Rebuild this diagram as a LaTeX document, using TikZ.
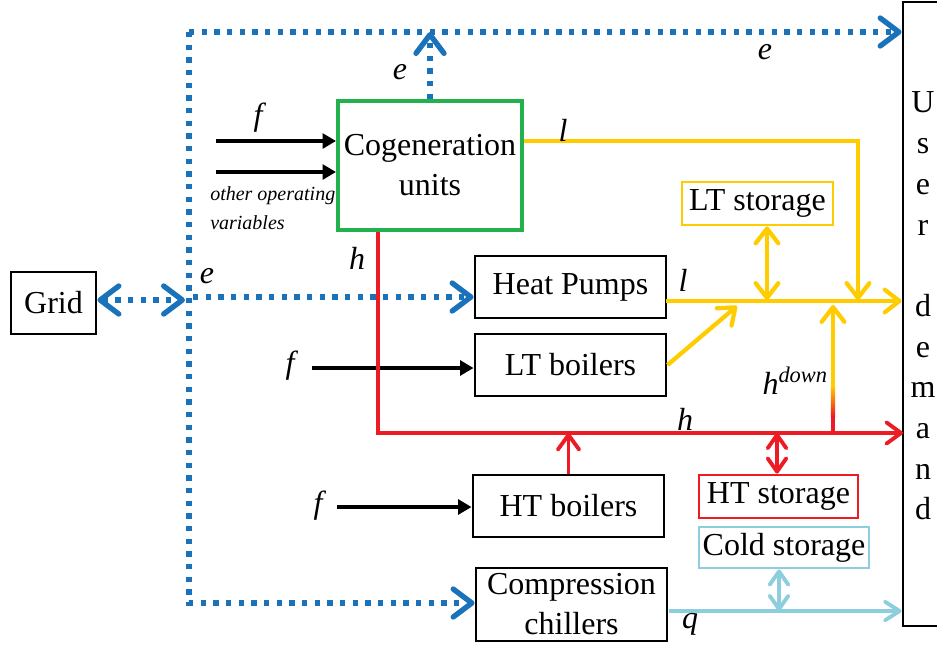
\documentclass[tikz,border=0pt]{standalone}
\usepackage{fontspec}
\setmainfont{Liberation Serif}
\usetikzlibrary{arrows.meta}
\definecolor{eblue}{RGB}{26,114,187}
\definecolor{lyellow}{RGB}{255,204,0}
\definecolor{hred}{RGB}{237,28,36}
\definecolor{cgreen}{RGB}{34,177,76}
\definecolor{cblue}{RGB}{140,206,222}
\tikzset{
  unitbox/.style={draw=black, line width=2.2pt, inner sep=0pt, align=center},
  elec/.style={draw=eblue, line width=4pt, dash pattern=on 4pt off 5.5pt},
  ebarb/.style={-{Straight Barb[length=14pt,width=21pt,round]}},
  ebarbs/.style={{Straight Barb[length=14pt,width=21pt,round]}-{Straight Barb[length=14pt,width=21pt,round]}},
  fuel/.style={draw=black, line width=3.2pt, -{Triangle[length=10pt,width=11pt]}},
  lheat/.style={draw=lyellow, line width=3.2pt, -{Straight Barb[length=11pt,width=17pt,round]}},
  lheats/.style={draw=lyellow, line width=3.2pt, {Straight Barb[length=11pt,width=17pt,round]}-{Straight Barb[length=11pt,width=17pt,round]}},
  hheat/.style={draw=hred, line width=2.9pt, -{Straight Barb[length=11pt,width=16pt,round]}},
  hheats/.style={draw=hred, line width=2.9pt, {Straight Barb[length=10pt,width=14pt,round]}-{Straight Barb[length=10pt,width=14pt,round]}},
  cold/.style={draw=cblue, line width=2.9pt, -{Straight Barb[length=11pt,width=14pt,round]}},
  colds/.style={draw=cblue, line width=2.9pt, {Straight Barb[length=10pt,width=14pt,round]}-{Straight Barb[length=10pt,width=14pt,round]}},
  var/.style={font=\fontsize{24}{30}\selectfont\itshape, inner sep=0pt},
}
\begin{document}
\begin{tikzpicture}[x=0.75pt, y=-0.75pt, font=\fontsize{24}{30}\selectfont]
\useasboundingbox (0,0) rectangle (937,644);

% units
\node[unitbox, minimum width=63.75pt, minimum height=46.5pt] (grid) at (53.5,303) {Grid};
\node[unitbox, draw=cgreen, line width=3pt, minimum width=138pt, minimum height=96.75pt] (cog) at (430,165.5) {Cogeneration\\units};
\node[unitbox, minimum width=143.25pt, minimum height=46.5pt] (hp) at (570.5,287) {Heat Pumps};
\node[unitbox, minimum width=143.25pt, minimum height=46.5pt] (ltb) at (570.5,365) {LT boilers};
\node[unitbox, minimum width=143.25pt, minimum height=46.5pt] (htb) at (568.5,506) {HT boilers};
\node[unitbox, minimum width=143.25pt, minimum height=54.75pt] (chil) at (571.5,604.5) {Compression\\chillers};
\node[unitbox, draw=lyellow, minimum width=113.25pt, minimum height=32.25pt] (lts) at (757.5,203.5) {LT storage};
\node[unitbox, draw=hred, minimum width=119.25pt, minimum height=32.25pt] (hts) at (778.5,496.5) {HT storage};
\node[unitbox, draw=cblue, minimum width=127.5pt, minimum height=30.75pt] (cst) at (784,547.5) {Cold storage};
\node[unitbox, minimum width=30pt, minimum height=468pt] (ud) at (923,314) {};
\node[align=center, inner sep=0pt, font=\fontsize{24}{30.5}\selectfont] (udtext) at (923,306)
  {U\\s\\e\\r\\\strut\\d\\e\\m\\a\\n\\d};

% reference coordinates
\coordinate (tl) at (189,32);
\coordinate (bl) at (189,603);
\coordinate (gj) at (185,300);
\coordinate (hpin) at (193,297);
\coordinate (f1) at (216,141);
\coordinate (f2) at (216,172);
\coordinate (f3) at (312,368);
\coordinate (f4) at (337,507);
\coordinate (lcorner) at (858,141);
\coordinate (lbus) at (858,300);
\coordinate (hpout) at (666,301);
\coordinate (ltsx) at (767,300);
\coordinate (diag) at (737,306);
\coordinate (hx) at (378,433);
\coordinate (hbus) at (903,433);
\coordinate (hd0) at (833,433);
\coordinate (hd1) at (833,416);
\coordinate (hd2) at (833,386);
\coordinate (hd3) at (833,305);
\coordinate (hsx) at (777,433);
\coordinate (qout) at (669,611);
\coordinate (csx) at (779,611);

% electricity
\draw[elec, ebarb] (tl) -- (ud.west |- tl);
\draw[elec, ebarb] (tl) -- (bl) -- (chil.west |- bl);
\draw[elec, ebarb] (cog.north) -- (cog.north |- tl);
\draw[elec, ebarbs] (grid.east |- gj) -- (gj);
\draw[elec, ebarb] (hpin) -- (hp.west |- hpin);

% fuel and other inputs
\draw[fuel] (f1) -- (cog.west |- f1);
\draw[fuel] (f2) -- (cog.west |- f2);
\draw[fuel] (f3) -- (ltb.west |- f3);
\draw[fuel] (f4) -- (htb.west |- f4);

% high temperature heat
\draw[hheat] (cog.south -| hx) -- (hx) -- (hbus);
\draw[hheat] (htb.north) -- (htb.north |- hx);
\draw[hheats] (hsx) -- (hts.north -| hsx);

% low temperature heat
\draw[lheat] (cog.east |- f1) -- (lcorner) -- (lbus);
\draw[lheat] (hpout) -- (ud.west |- hpout);
\draw[lheats] (lts.south -| ltsx) -- (ltsx);
\draw[lheat] (ltb.east) -- (diag);
\draw[hred, line width=3.2pt] (hd0) -- (hd1);
\shade[bottom color=hred, top color=lyellow] ([xshift=-1.6pt]hd1) rectangle ([xshift=1.6pt]hd2);
\draw[lheat] ([yshift=-1pt]hd2) -- (hd3);

% cooling
\draw[cold] (qout) -- (ud.west |- qout);
\draw[colds] (cst.south -| csx) -- (csx);

% flow labels
\node[var] (le1) at (400,72) {e};
\node[var] (le2) at (765,52) {e};
\node[var] (le3) at (207,276) {e};
\node[var] (lf1) at (258,118) {f};
\node[var] (lf2) at (290,366) {f};
\node[var] (lf3) at (318,506) {f};
\node[var] (lh1) at (357,258) {h};
\node[var] (lh2) at (685,419) {h};
\node[var] (ll1) at (563,130) {l};
\node[var] (ll2) at (683,280) {l};
\node[var] (lq) at (690,624) {q};
\node[var, anchor=east] (lhd) at (828,381) {h\textsuperscript{down}};
\node[var, font=\fontsize{15}{22}\selectfont\itshape, anchor=north west, align=left] (lov) at (210,186) {other operating\\variables};
\end{tikzpicture}
\end{document}
